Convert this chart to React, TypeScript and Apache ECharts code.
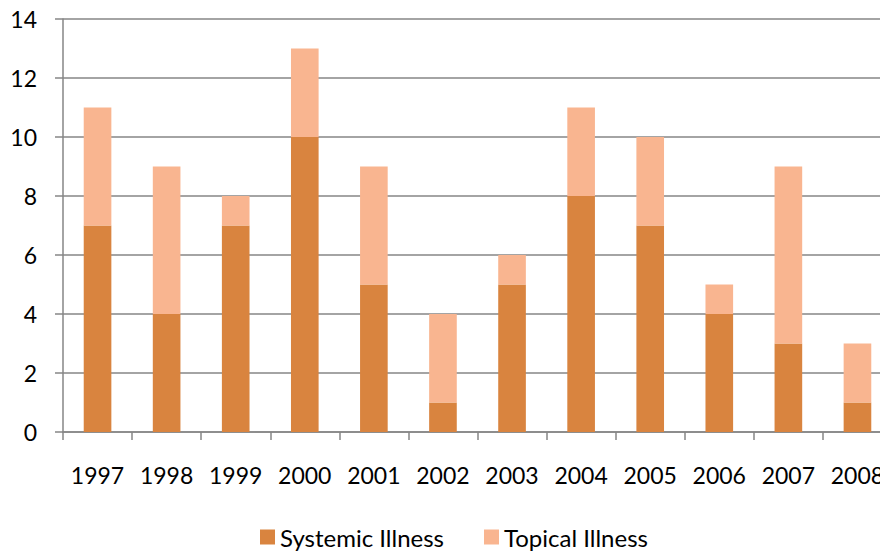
import React, { useEffect, useRef } from "react";
import * as echarts from "echarts";

const years = ["1997", "1998", "1999", "2000", "2001", "2002", "2003", "2004", "2005", "2006", "2007", "2008"];
const systemic = [7, 4, 7, 10, 5, 1, 5, 8, 7, 4, 3, 1];
const topical = [4, 5, 1, 3, 4, 3, 1, 3, 3, 1, 6, 2];
const yTicks = { min: 0, max: 14, interval: 2 };

export default function App() {
  const ref = useRef<HTMLDivElement>(null);
  useEffect(() => {
    document.body.style.margin = "0";
    const chart = echarts.init(ref.current!, null, { renderer: "svg" });
    const font = "Lato, 'Open Sans', sans-serif";
    chart.setOption({
      animation: false,
      textStyle: { fontFamily: font },
      grid: { left: 63, right: 8, top: 19, bottom: 122, containLabel: false },
      legend: {
        left: 260,
        top: 524,
        padding: 0,
        itemWidth: 15,
        itemHeight: 15,
        itemGap: 40,
        icon: "rect",
        textStyle: { fontFamily: font, fontSize: 24, lineHeight: 26, color: "#000" },
        data: ["Systemic Illness", "Topical Illness"],
      },
      xAxis: {
        type: "category",
        data: years,
        axisLine: { lineStyle: { color: "#868686", width: 1.5 } },
        axisTick: { show: true, length: 8, lineStyle: { color: "#868686", width: 1.5 }, alignWithLabel: false },
        axisLabel: { fontFamily: font, fontSize: 23, color: "#000", margin: 31, interval: 0 },
      },
      yAxis: {
        type: "value",
        min: yTicks.min,
        max: yTicks.max,
        interval: yTicks.interval,
        axisLine: { show: true, lineStyle: { color: "#868686", width: 1.5 } },
        axisTick: { show: true, length: 8, lineStyle: { color: "#868686", width: 1.5 } },
        splitLine: { lineStyle: { color: "#868686", width: 1.5 } },
        axisLabel: { fontFamily: font, fontSize: 23, color: "#000", margin: 26 },
      },
      series: [
        {
          name: "Systemic Illness",
          type: "bar",
          stack: "total",
          data: systemic,
          barWidth: "40%",
          itemStyle: { color: "#D9843F" },
        },
        {
          name: "Topical Illness",
          type: "bar",
          stack: "total",
          data: topical,
          barWidth: "40%",
          itemStyle: { color: "#F9B590" },
        },
      ],
    });
    return () => chart.dispose();
  }, []);
  return (
    <div style={{ width: 880, height: 554, overflow: "hidden" }}>
      <div ref={ref} style={{ width: 900, height: 554 }} />
    </div>
  );
}
